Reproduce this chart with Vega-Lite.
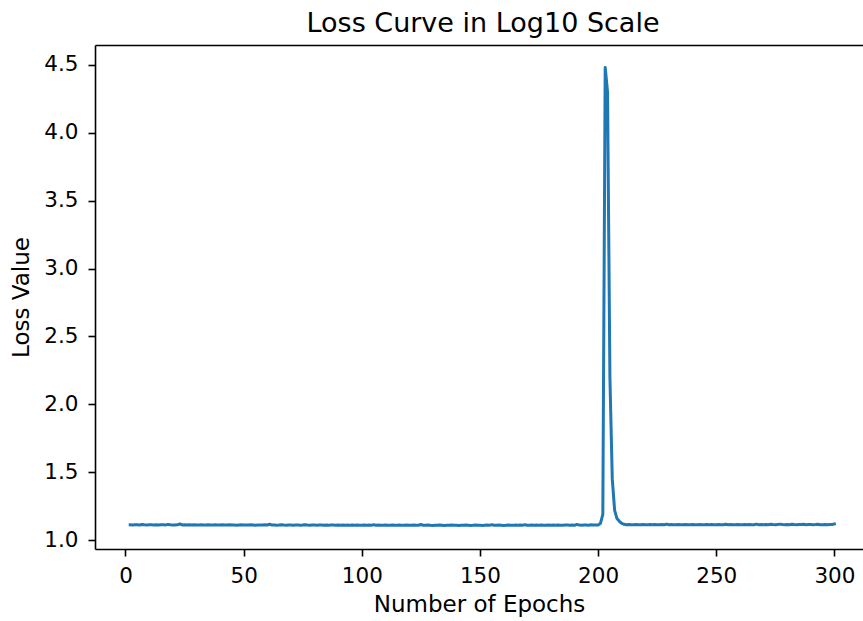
{
  "$schema": "https://vega.github.io/schema/vega-lite/v6.json",
  "autosize": {"type": "none"},
  "padding": {"left": 95, "top": 45, "right": 0, "bottom": 72},
  "width": 768,
  "height": 504,
  "background": "white",
  "title": {"text": "Loss Curve in Log10 Scale", "font": "DejaVu Sans", "fontSize": 27, "fontWeight": "normal", "color": "black", "baseline": "alphabetic", "offset": -14, "dx": 4},
  "config": {
    "view": {"stroke": null},
    "axis": {"grid": false, "domainColor": "black", "domainWidth": 1.6, "tickColor": "black", "tickWidth": 1.6, "tickSize": 7, "labelFont": "DejaVu Sans", "labelFontSize": 21.5, "labelColor": "black", "labelPadding": 7, "titleFont": "DejaVu Sans", "titleFontSize": 23, "titleFontWeight": "normal", "titleColor": "black"}
  },
  "data": {"values": [
    {"epoch":2,"loss":1.114},{"epoch":3,"loss":1.113},{"epoch":4,"loss":1.115},{"epoch":5,"loss":1.114},{"epoch":6,"loss":1.112},{"epoch":7,"loss":1.116},{"epoch":8,"loss":1.114},{"epoch":9,"loss":1.113},{"epoch":10,"loss":1.115},{"epoch":11,"loss":1.114},
    {"epoch":12,"loss":1.113},{"epoch":13,"loss":1.114},{"epoch":14,"loss":1.112},{"epoch":15,"loss":1.115},{"epoch":16,"loss":1.114},{"epoch":17,"loss":1.113},{"epoch":18,"loss":1.117},{"epoch":19,"loss":1.114},{"epoch":20,"loss":1.113},{"epoch":21,"loss":1.112},
    {"epoch":22,"loss":1.114},{"epoch":23,"loss":1.120},{"epoch":24,"loss":1.113},{"epoch":25,"loss":1.114},{"epoch":26,"loss":1.112},{"epoch":27,"loss":1.115},{"epoch":28,"loss":1.113},{"epoch":29,"loss":1.114},{"epoch":30,"loss":1.112},{"epoch":31,"loss":1.113},
    {"epoch":32,"loss":1.114},{"epoch":33,"loss":1.112},{"epoch":34,"loss":1.113},{"epoch":35,"loss":1.115},{"epoch":36,"loss":1.113},{"epoch":37,"loss":1.112},{"epoch":38,"loss":1.114},{"epoch":39,"loss":1.113},{"epoch":40,"loss":1.112},{"epoch":41,"loss":1.114},
    {"epoch":42,"loss":1.113},{"epoch":43,"loss":1.112},{"epoch":44,"loss":1.114},{"epoch":45,"loss":1.113},{"epoch":46,"loss":1.112},{"epoch":47,"loss":1.111},{"epoch":48,"loss":1.113},{"epoch":49,"loss":1.114},{"epoch":50,"loss":1.112},{"epoch":51,"loss":1.113},
    {"epoch":52,"loss":1.112},{"epoch":53,"loss":1.114},{"epoch":54,"loss":1.113},{"epoch":55,"loss":1.111},{"epoch":56,"loss":1.112},{"epoch":57,"loss":1.113},{"epoch":58,"loss":1.112},{"epoch":59,"loss":1.114},{"epoch":60,"loss":1.113},{"epoch":61,"loss":1.118},
    {"epoch":62,"loss":1.112},{"epoch":63,"loss":1.113},{"epoch":64,"loss":1.111},{"epoch":65,"loss":1.112},{"epoch":66,"loss":1.114},{"epoch":67,"loss":1.112},{"epoch":68,"loss":1.111},{"epoch":69,"loss":1.113},{"epoch":70,"loss":1.112},{"epoch":71,"loss":1.111},
    {"epoch":72,"loss":1.113},{"epoch":73,"loss":1.112},{"epoch":74,"loss":1.111},{"epoch":75,"loss":1.112},{"epoch":76,"loss":1.114},{"epoch":77,"loss":1.112},{"epoch":78,"loss":1.111},{"epoch":79,"loss":1.113},{"epoch":80,"loss":1.112},{"epoch":81,"loss":1.111},
    {"epoch":82,"loss":1.112},{"epoch":83,"loss":1.113},{"epoch":84,"loss":1.111},{"epoch":85,"loss":1.112},{"epoch":86,"loss":1.110},{"epoch":87,"loss":1.112},{"epoch":88,"loss":1.113},{"epoch":89,"loss":1.111},{"epoch":90,"loss":1.112},{"epoch":91,"loss":1.110},
    {"epoch":92,"loss":1.112},{"epoch":93,"loss":1.111},{"epoch":94,"loss":1.113},{"epoch":95,"loss":1.110},{"epoch":96,"loss":1.112},{"epoch":97,"loss":1.111},{"epoch":98,"loss":1.112},{"epoch":99,"loss":1.110},{"epoch":100,"loss":1.111},{"epoch":101,"loss":1.113},
    {"epoch":102,"loss":1.111},{"epoch":103,"loss":1.112},{"epoch":104,"loss":1.110},{"epoch":105,"loss":1.115},{"epoch":106,"loss":1.111},{"epoch":107,"loss":1.112},{"epoch":108,"loss":1.110},{"epoch":109,"loss":1.111},{"epoch":110,"loss":1.112},{"epoch":111,"loss":1.110},
    {"epoch":112,"loss":1.111},{"epoch":113,"loss":1.112},{"epoch":114,"loss":1.110},{"epoch":115,"loss":1.111},{"epoch":116,"loss":1.113},{"epoch":117,"loss":1.110},{"epoch":118,"loss":1.111},{"epoch":119,"loss":1.112},{"epoch":120,"loss":1.110},{"epoch":121,"loss":1.111},
    {"epoch":122,"loss":1.112},{"epoch":123,"loss":1.110},{"epoch":124,"loss":1.111},{"epoch":125,"loss":1.116},{"epoch":126,"loss":1.110},{"epoch":127,"loss":1.111},{"epoch":128,"loss":1.112},{"epoch":129,"loss":1.110},{"epoch":130,"loss":1.109},{"epoch":131,"loss":1.111},
    {"epoch":132,"loss":1.110},{"epoch":133,"loss":1.112},{"epoch":134,"loss":1.111},{"epoch":135,"loss":1.109},{"epoch":136,"loss":1.110},{"epoch":137,"loss":1.111},{"epoch":138,"loss":1.112},{"epoch":139,"loss":1.110},{"epoch":140,"loss":1.111},{"epoch":141,"loss":1.109},
    {"epoch":142,"loss":1.111},{"epoch":143,"loss":1.110},{"epoch":144,"loss":1.112},{"epoch":145,"loss":1.111},{"epoch":146,"loss":1.109},{"epoch":147,"loss":1.110},{"epoch":148,"loss":1.112},{"epoch":149,"loss":1.111},{"epoch":150,"loss":1.110},{"epoch":151,"loss":1.109},
    {"epoch":152,"loss":1.111},{"epoch":153,"loss":1.112},{"epoch":154,"loss":1.110},{"epoch":155,"loss":1.115},{"epoch":156,"loss":1.111},{"epoch":157,"loss":1.110},{"epoch":158,"loss":1.112},{"epoch":159,"loss":1.111},{"epoch":160,"loss":1.109},{"epoch":161,"loss":1.110},
    {"epoch":162,"loss":1.112},{"epoch":163,"loss":1.111},{"epoch":164,"loss":1.110},{"epoch":165,"loss":1.113},{"epoch":166,"loss":1.111},{"epoch":167,"loss":1.112},{"epoch":168,"loss":1.110},{"epoch":169,"loss":1.115},{"epoch":170,"loss":1.111},{"epoch":171,"loss":1.110},
    {"epoch":172,"loss":1.112},{"epoch":173,"loss":1.111},{"epoch":174,"loss":1.113},{"epoch":175,"loss":1.110},{"epoch":176,"loss":1.112},{"epoch":177,"loss":1.111},{"epoch":178,"loss":1.110},{"epoch":179,"loss":1.112},{"epoch":180,"loss":1.111},{"epoch":181,"loss":1.113},
    {"epoch":182,"loss":1.111},{"epoch":183,"loss":1.112},{"epoch":184,"loss":1.110},{"epoch":185,"loss":1.111},{"epoch":186,"loss":1.113},{"epoch":187,"loss":1.112},{"epoch":188,"loss":1.111},{"epoch":189,"loss":1.112},{"epoch":190,"loss":1.110},{"epoch":191,"loss":1.117},
    {"epoch":192,"loss":1.112},{"epoch":193,"loss":1.111},{"epoch":194,"loss":1.113},{"epoch":195,"loss":1.112},{"epoch":196,"loss":1.111},{"epoch":197,"loss":1.114},{"epoch":198,"loss":1.112},{"epoch":199,"loss":1.113},{"epoch":200,"loss":1.112},
    {"epoch":201,"loss":1.125},{"epoch":202,"loss":1.19},{"epoch":203,"loss":4.48},{"epoch":204,"loss":4.3},{"epoch":205,"loss":2.2},{"epoch":206,"loss":1.45},{"epoch":207,"loss":1.22},{"epoch":208,"loss":1.16},{"epoch":209,"loss":1.14},{"epoch":210,"loss":1.125},
    {"epoch":211,"loss":1.118},{"epoch":212,"loss":1.115},{"epoch":213,"loss":1.116},{"epoch":214,"loss":1.114},{"epoch":215,"loss":1.115},{"epoch":216,"loss":1.117},{"epoch":217,"loss":1.115},{"epoch":218,"loss":1.114},{"epoch":219,"loss":1.116},{"epoch":220,"loss":1.115},
    {"epoch":221,"loss":1.114},{"epoch":222,"loss":1.116},{"epoch":223,"loss":1.115},{"epoch":224,"loss":1.117},{"epoch":225,"loss":1.114},{"epoch":226,"loss":1.115},{"epoch":227,"loss":1.116},{"epoch":228,"loss":1.114},{"epoch":229,"loss":1.119},{"epoch":230,"loss":1.115},
    {"epoch":231,"loss":1.116},{"epoch":232,"loss":1.114},{"epoch":233,"loss":1.115},{"epoch":234,"loss":1.116},{"epoch":235,"loss":1.114},{"epoch":236,"loss":1.115},{"epoch":237,"loss":1.117},{"epoch":238,"loss":1.115},{"epoch":239,"loss":1.114},{"epoch":240,"loss":1.116},
    {"epoch":241,"loss":1.115},{"epoch":242,"loss":1.114},{"epoch":243,"loss":1.116},{"epoch":244,"loss":1.115},{"epoch":245,"loss":1.114},{"epoch":246,"loss":1.117},{"epoch":247,"loss":1.115},{"epoch":248,"loss":1.116},{"epoch":249,"loss":1.114},{"epoch":250,"loss":1.115},
    {"epoch":251,"loss":1.116},{"epoch":252,"loss":1.115},{"epoch":253,"loss":1.114},{"epoch":254,"loss":1.118},{"epoch":255,"loss":1.115},{"epoch":256,"loss":1.116},{"epoch":257,"loss":1.114},{"epoch":258,"loss":1.115},{"epoch":259,"loss":1.116},{"epoch":260,"loss":1.114},
    {"epoch":261,"loss":1.115},{"epoch":262,"loss":1.117},{"epoch":263,"loss":1.115},{"epoch":264,"loss":1.116},{"epoch":265,"loss":1.114},{"epoch":266,"loss":1.115},{"epoch":267,"loss":1.119},{"epoch":268,"loss":1.115},{"epoch":269,"loss":1.116},{"epoch":270,"loss":1.114},
    {"epoch":271,"loss":1.116},{"epoch":272,"loss":1.115},{"epoch":273,"loss":1.118},{"epoch":274,"loss":1.116},{"epoch":275,"loss":1.115},{"epoch":276,"loss":1.117},{"epoch":277,"loss":1.119},{"epoch":278,"loss":1.116},{"epoch":279,"loss":1.115},{"epoch":280,"loss":1.117},
    {"epoch":281,"loss":1.115},{"epoch":282,"loss":1.118},{"epoch":283,"loss":1.116},{"epoch":284,"loss":1.115},{"epoch":285,"loss":1.117},{"epoch":286,"loss":1.116},{"epoch":287,"loss":1.118},{"epoch":288,"loss":1.115},{"epoch":289,"loss":1.116},{"epoch":290,"loss":1.117},
    {"epoch":291,"loss":1.115},{"epoch":292,"loss":1.116},{"epoch":293,"loss":1.118},{"epoch":294,"loss":1.115},{"epoch":295,"loss":1.114},{"epoch":296,"loss":1.116},{"epoch":297,"loss":1.115},{"epoch":298,"loss":1.117},{"epoch":299,"loss":1.116},{"epoch":300,"loss":1.120}
  ]},
  "layer": [
    {
      "mark": {"type": "line", "color": "#1f77b4", "strokeWidth": 3, "strokeCap": "square", "strokeJoin": "round"},
      "encoding": {
        "x": {"field": "epoch", "type": "quantitative", "scale": {"domain": [-12.9, 312.1], "nice": false, "zero": false}, "axis": {"values": [0, 50, 100, 150, 200, 250, 300], "title": "Number of Epochs", "titlePadding": 7, "labelPadding": 9, "format": "d"}},
        "y": {"field": "loss", "type": "quantitative", "scale": {"domain": [0.936, 4.645], "nice": false, "zero": false}, "axis": {"values": [1.0, 1.5, 2.0, 2.5, 3.0, 3.5, 4.0, 4.5], "format": ".1f", "title": "Loss Value", "titlePadding": 10, "labelPadding": 10}}
      }
    },
    {
      "mark": {"type": "line", "opacity": 0},
      "encoding": {
        "x": {"field": "epoch", "type": "quantitative", "axis": {"orient": "top", "labels": false, "ticks": false, "title": null, "domain": true, "minExtent": 0, "maxExtent": 0}}
      }
    }
  ],
  "resolve": {"axis": {"x": "independent"}}
}
